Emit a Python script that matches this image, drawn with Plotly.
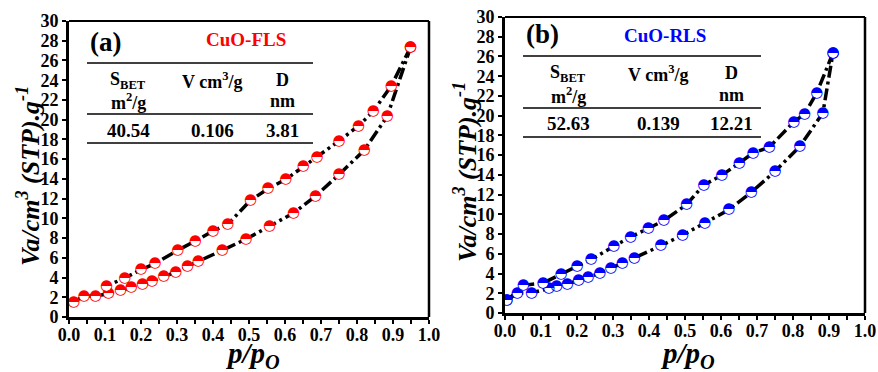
import plotly.graph_objects as go

# Panel (a) CuO-FLS
a_ads_p = [0.013, 0.042, 0.074, 0.11, 0.143, 0.173, 0.204, 0.231, 0.263, 0.297, 0.329, 0.359,
           0.426, 0.492, 0.557, 0.624, 0.685, 0.75, 0.82, 0.884, 0.949]
a_ads_v = [1.52, 2.13, 2.13, 2.36, 2.67, 2.97, 3.34, 3.61, 4.09, 4.56, 5.13, 5.61,
           6.76, 7.9, 9.19, 10.54, 12.26, 14.43, 16.9, 20.34, 27.36]
a_des_p = [0.949, 0.895, 0.845, 0.804, 0.75, 0.689, 0.651, 0.602, 0.553, 0.504, 0.441, 0.4,
           0.351, 0.302, 0.239, 0.2, 0.155, 0.104]
a_des_v = [27.36, 23.41, 20.84, 19.36, 17.84, 16.22, 15.27, 13.95, 13.0, 11.82, 9.39, 8.72,
           7.7, 6.76, 5.41, 4.8, 3.95, 3.14]

# Panel (b) CuO-RLS
b_ads_p = [0.005, 0.034, 0.074, 0.122, 0.143, 0.173, 0.204, 0.231, 0.263, 0.294, 0.326, 0.359,
           0.433, 0.493, 0.555, 0.622, 0.684, 0.75, 0.819, 0.883, 0.911]
b_ads_v = [1.25, 2.03, 2.03, 2.53, 2.70, 2.94, 3.28, 3.61, 4.05, 4.53, 5.07, 5.57,
           6.82, 7.9, 9.12, 10.47, 12.23, 14.36, 16.89, 20.27, 26.35]
b_des_p = [0.911, 0.866, 0.832, 0.802, 0.734, 0.689, 0.651, 0.602, 0.552, 0.504, 0.441, 0.398,
           0.349, 0.302, 0.239, 0.2, 0.156, 0.106, 0.051, 0.005]
b_des_v = [26.35, 22.3, 20.17, 19.36, 16.79, 16.22, 15.2, 13.95, 12.97, 10.98, 9.36, 8.61,
           7.7, 6.76, 5.41, 4.73, 3.95, 3.04, 2.8, 1.25]

x_ticks = [round(i * 0.1, 1) for i in range(11)]
y_ticks = list(range(0, 31, 2))

x_title = "<b><i>p/p<sub>O</sub></i></b>"
y_title = "<b><i>Va/cm<sup>3</sup> (STP).g<sup>-1</sup></i></b>"

panels = [
    dict(ax="", name="CuO-FLS", color="red", label="(a)",
         ads=(a_ads_p, a_ads_v), des=(a_des_p, a_des_v),
         table=["40.54", "0.106", "3.81"]),
    dict(ax="2", name="CuO-RLS", color="blue", label="(b)",
         ads=(b_ads_p, b_ads_v), des=(b_des_p, b_des_v),
         table=["52.63", "0.139", "12.21"]),
]

W, H = 878, 372
frames = [(69, 429, 21, 317), (505, 865, 17, 313)]

SERIF = "Liberation Serif"

fig = go.Figure()

for pnl in panels:
    xa = "x" + pnl["ax"]
    ya = "y" + pnl["ax"]
    for (px_, pv) in (pnl["ads"], pnl["des"]):
        fig.add_trace(go.Scatter(x=px_, y=pv, mode="lines", xaxis=xa, yaxis=ya,
                                 line=dict(color="black", width=3.5, dash="12px,4px,3px,4px"),
                                 showlegend=False, hoverinfo="skip"))
    for (px_, pv) in (pnl["ads"], pnl["des"]):
        fig.add_trace(go.Scatter(x=px_, y=pv, mode="markers", xaxis=xa, yaxis=ya,
                                 marker=dict(symbol="circle", size=10, color="white",
                                             line=dict(width=0)),
                                 showlegend=False, hoverinfo="skip"))
        fig.add_trace(go.Scatter(x=px_, y=pv, mode="text", xaxis=xa, yaxis=ya,
                                 text=["\u25d3"] * len(px_), textposition="middle center",
                                 textfont=dict(family="DejaVu Sans", size=15, color=pnl["color"]),
                                 showlegend=False, hoverinfo="skip"))

def xdom(f):
    return [f[0] / W, f[1] / W]

def ydom(f):
    return [1 - f[3] / H, 1 - f[2] / H]

axis_common = dict(
    automargin=False,
    showgrid=False, zeroline=False, showline=True, linecolor="black", linewidth=3,
    ticks="outside", ticklen=4, tickwidth=2, tickcolor="black",
    tickfont=dict(family=SERIF, size=18, color="black", weight="bold"),
)

layout = dict(template="none", width=W, height=H, margin=dict(l=0, r=0, t=0, b=0, pad=0),
              plot_bgcolor="white", paper_bgcolor="white", showlegend=False,
              font=dict(family=SERIF, color="black"))

shapes = []
annotations = []

def px(x):
    return x / W

def py(y):
    return 1 - y / H

xtitle_pos = [(252, 355), (687, 355)]
ytitle_pos = [(28, 176), (465, 172)]

for i, pnl in enumerate(panels):
    f = frames[i]
    sfx = pnl["ax"]
    layout["xaxis" + sfx] = dict(axis_common, domain=xdom(f), range=[0, 1.0], anchor="y" + sfx,
                                 tickvals=x_ticks, ticktext=[f"{v:.1f}" for v in x_ticks],
                                 ticklabelstandoff=-5,
                                 minor=dict(dtick=0.05, ticks="outside", ticklen=4, tickwidth=2,
                                            tickcolor="black", showgrid=False))
    layout["yaxis" + sfx] = dict(axis_common, domain=ydom(f), range=[0, 30], anchor="x" + sfx,
                                 tickvals=y_ticks)
    xr = "x" + sfx + " domain"
    yr = "y" + sfx + " domain"
    shapes.append(dict(type="line", xref=xr, yref=yr, x0=0, x1=1, y0=1, y1=1,
                       line=dict(color="black", width=2)))
    shapes.append(dict(type="line", xref=xr, yref=yr, x0=1, x1=1, y0=0, y1=1,
                       line=dict(color="black", width=2.5)))
    annotations.append(dict(x=px(xtitle_pos[i][0]), y=py(xtitle_pos[i][1]), xref="paper", yref="paper",
                            text=x_title, showarrow=False, xanchor="center", yanchor="middle",
                            font=dict(family=SERIF, size=29, color="black")))
    annotations.append(dict(x=px(ytitle_pos[i][0]), y=py(ytitle_pos[i][1]), xref="paper", yref="paper",
                            text=y_title, showarrow=False, xanchor="center", yanchor="middle",
                            textangle=-90, font=dict(family=SERIF, size=26, color="black")))

tables = [
    dict(x0=87, x1=313, lines=[63, 114, 143], label=(88, 42), name=(246, 39),
         cols=[128, 212, 282], hy=[80, 101], vy=130),
    dict(x0=523, x1=761, lines=[56, 108, 137], label=(524, 34), name=(665, 35),
         cols=[568, 658, 731], hy=[73, 95], vy=124),
]

for i, pnl in enumerate(panels):
    t = tables[i]
    for ly in t["lines"]:
        shapes.append(dict(type="line", xref="paper", yref="paper",
                           x0=px(t["x0"]), x1=px(t["x1"]), y0=py(ly), y1=py(ly),
                           line=dict(color="black", width=1.3)))
    annotations.append(dict(x=px(t["label"][0]), y=py(t["label"][1]), xref="paper", yref="paper",
                            text="<b>" + pnl["label"] + "</b>", showarrow=False, xanchor="left",
                            yanchor="middle", font=dict(family=SERIF, size=27, color="black")))
    annotations.append(dict(x=px(t["name"][0]), y=py(t["name"][1]), xref="paper", yref="paper",
                            text="<b>" + pnl["name"] + "</b>", showarrow=False, xanchor="center",
                            yanchor="middle", font=dict(family=SERIF, size=19, color=pnl["color"])))
    heads = [("<b>S<sub>BET</sub></b>", "<b>m<sup>2</sup>/g</b>"),
             ("<b>V cm<sup>3</sup>/g</b>", ""),
             ("<b>D</b>", "<b>nm</b>")]
    for c, (h1, h2) in enumerate(heads):
        annotations.append(dict(x=px(t["cols"][c]), y=py(t["hy"][0]), xref="paper", yref="paper",
                                text=h1, showarrow=False, xanchor="center", yanchor="middle",
                                font=dict(family=SERIF, size=18, color="black")))
        if h2:
            annotations.append(dict(x=px(t["cols"][c]), y=py(t["hy"][1]), xref="paper", yref="paper",
                                    text=h2, showarrow=False, xanchor="center", yanchor="middle",
                                    font=dict(family=SERIF, size=18, color="black")))
        annotations.append(dict(x=px(t["cols"][c]), y=py(t["vy"]), xref="paper", yref="paper",
                                text="<b>" + pnl["table"][c] + "</b>", showarrow=False,
                                xanchor="center", yanchor="middle",
                                font=dict(family=SERIF, size=19, color="black")))

layout["shapes"] = shapes
layout["annotations"] = annotations
fig.update_layout(**layout)
fig.write_html("out.html", config={"displayModeBar": False},
               post_script="document.body.style.margin='0';document.body.style.overflow='hidden';")
